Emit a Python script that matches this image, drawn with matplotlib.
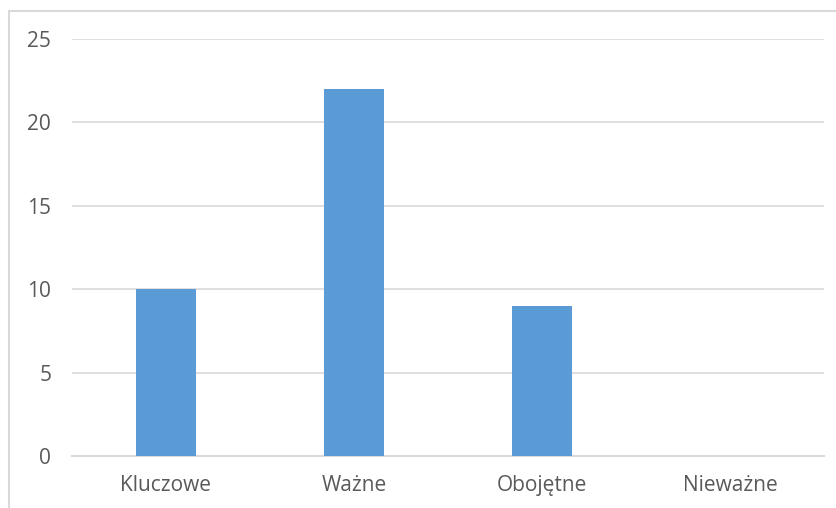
import matplotlib.pyplot as plt
from matplotlib.patches import Rectangle

categories = ['Kluczowe', 'Ważne', 'Obojętne', 'Nieważne']
values = [10, 22, 9, 0]
yticks = [0, 5, 10, 15, 20, 25]

plt.rcParams['font.family'] = ['Open Sans', 'DejaVu Sans']

fig = plt.figure(figsize=(8.37, 5.08), dpi=100)
ax = fig.add_axes([72/837, 1-456/508, (824-72)/837, (456-39)/508])

# chart border (cropped at right and bottom)
fig.patches.append(Rectangle((9/837, -0.1), 1.2, 1 - 11/508 + 0.1, transform=fig.transFigure,
                             fill=False, edgecolor='#d9d9d9', linewidth=1.5))

x = range(len(categories))
ax.bar(x, values, width=0.315, color='#5b9bd5', zorder=3)

ax.set_xlim(-0.5, len(categories)-0.5)
ax.set_ylim(0, 25)
ax.set_yticks(yticks)
ax.set_xticks(list(x))
ax.set_xticklabels(categories)
ax.grid(axis='y', color='#d9d9d9', linewidth=1.2, zorder=0)
for s in ['top', 'right', 'left']:
    ax.spines[s].set_visible(False)
ax.spines['bottom'].set_color('#d9d9d9')
ax.spines['bottom'].set_linewidth(1.5)
ax.tick_params(axis='both', length=0, labelsize=15, labelcolor='#595959')
ax.tick_params(axis='y', pad=15)
ax.tick_params(axis='x', pad=14)

fig.savefig('out.png', dpi=100)
